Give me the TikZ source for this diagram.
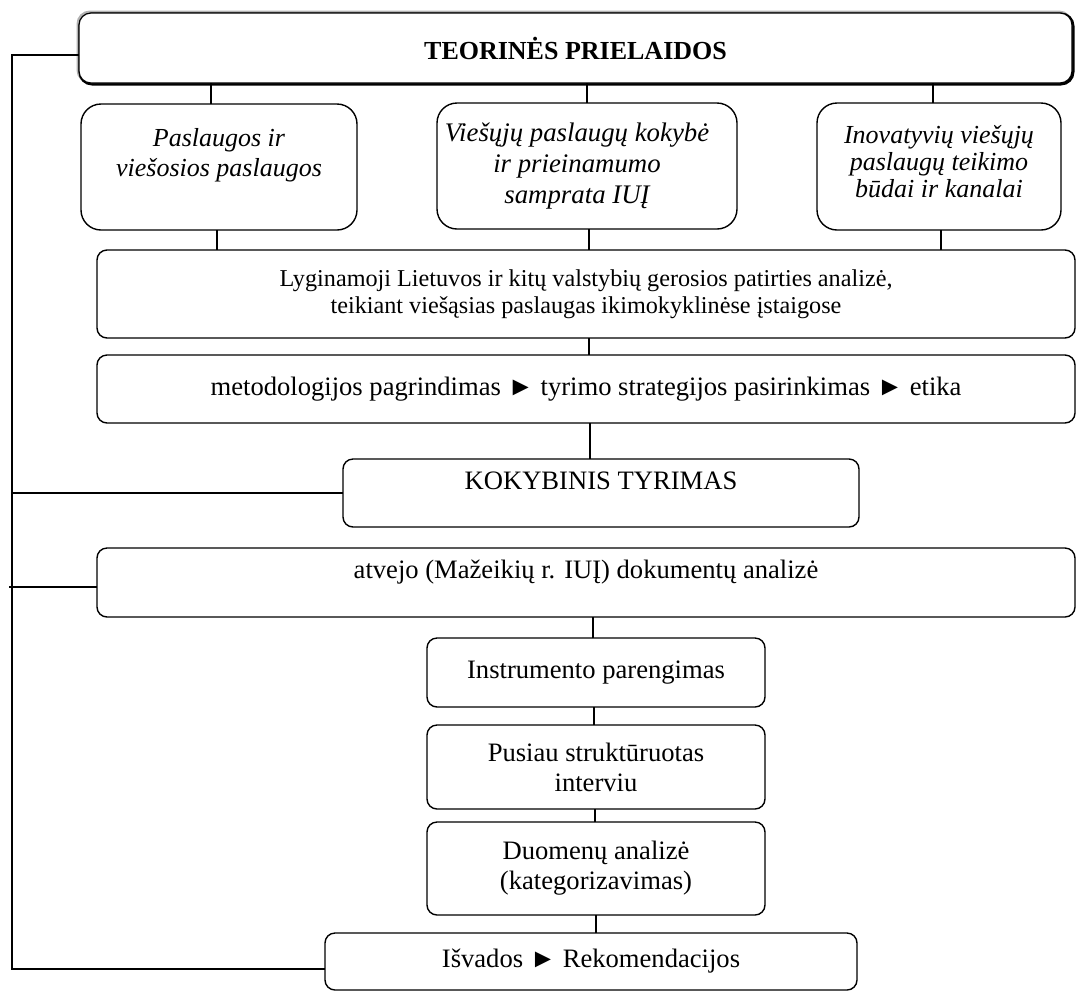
\documentclass[tikz,border=0pt]{standalone}
\usepackage{fontspec}
\setmainfont{Liberation Serif}
\begin{document}
\begin{tikzpicture}[x=0.5pt,y=-0.5pt,
  box/.style={draw, line width=0.7pt, rounded corners=5pt, inner sep=0pt, outer sep=0pt, align=center, fill=white, font=\fontsize{13.3}{15}\selectfont},
  bigbox/.style={box, rounded corners=10pt, font=\fontsize{13}{15}\selectfont\itshape},
  conn/.style={line width=0.7pt}]
\useasboundingbox (0,0) rectangle (1076,992);
% shadow of the title box
\draw[gray!60, line width=1.5pt, rounded corners=6pt] (78,12) rectangle (1071,82);
\draw[black, line width=1.5pt, rounded corners=6pt] (80,14) rectangle (1073,84);
\node[box, rounded corners=6pt, line width=0.6pt, minimum width=496.5pt, minimum height=35pt, font=\fontsize{13}{15}\selectfont\bfseries] (top) at (575.5,48) {TEORINĖS PRIELAIDOS};
% three theory boxes
\node[bigbox, minimum width=138pt, minimum height=63pt] (b1) at (219,167) {Paslaugos ir\\viešosios paslaugos\\\mbox{}};
\node[bigbox, minimum width=150pt, minimum height=63pt, font=\fontsize{13.4}{15.5}\selectfont\itshape] (b2) at (587,166) {\begin{tabular}{@{}c@{}}Viešųjų paslaugų kokybė\\ir prieinamumo\\samprata IUĮ\end{tabular}\hspace*{10pt}};
\node[bigbox, minimum width=122pt, minimum height=63.5pt, font=\fontsize{13}{13.5}\selectfont\itshape, text depth=5pt] (b3) at (939,166.5) {Inovatyvių viešųjų\\paslaugų teikimo\\būdai ir kanalai};
% wide boxes
\node[box, minimum width=489pt, minimum height=44pt, font=\fontsize{12.1}{13.5}\selectfont] (lyg) at (586,294) {Lyginamoji Lietuvos ir kitų valstybių gerosios patirties analizė,\\teikiant viešąsias paslaugas ikimokyklinėse įstaigose};
\node[box, minimum width=489pt, minimum height=34pt] (met) at (586,389) {metodologijos pagrindimas ► tyrimo strategijos pasirinkimas ► etika};
\node[box, minimum width=258pt, minimum height=34pt, text depth=12pt] (kok) at (601,493) {KOKYBINIS TYRIMAS};
\node[box, minimum width=489pt, minimum height=34.5pt, text depth=13.5pt] (atv) at (586,582.5) {atvejo (Mažeikių r. IUĮ) dokumentų analizė};
\node[box, minimum width=169pt, minimum height=34.5pt] (ins) at (596,672.5) {Instrumento parengimas};
\node[box, minimum width=169pt, minimum height=42pt] (pus) at (596,767) {Pusiau struktūruotas\\interviu};
\node[box, minimum width=169pt, minimum height=46.5pt] (duo) at (596,868.5) {Duomenų analizė\\(kategorizavimas)};
\node[box, minimum width=266pt, minimum height=28.5pt] (isv) at (591,961.5) {Išvados ► Rekomendacijos};
% connectors
\draw[conn] ([xshift=-4pt]b1.north) -- ([xshift=-4pt]b1.north |- top.south);
\draw[conn] (b2.north) -- (b2.north |- top.south);
\draw[conn] ([xshift=-3pt]b3.north) -- ([xshift=-3pt]b3.north |- top.south);
\draw[conn] ([xshift=-1pt]b1.south) -- ([xshift=-1pt]b1.south |- lyg.north);
\draw[conn] ([xshift=1pt]b2.south) -- ([xshift=1pt]b2.south |- lyg.north);
\draw[conn] ([xshift=1pt]b3.south) -- ([xshift=1pt]b3.south |- lyg.north);
\draw[conn] ([xshift=1.5pt]lyg.south) -- ([xshift=1.5pt]lyg.south |- met.north);
\draw[conn] ([xshift=-5.5pt]kok.north) -- ([xshift=-5.5pt]kok.north |- met.south);
\draw[conn] ([xshift=-1.5pt]ins.north) -- ([xshift=-1.5pt]ins.north |- atv.south);
\draw[conn] ([xshift=-1pt]pus.north) -- ([xshift=-1pt]pus.north |- ins.south);
\draw[conn] ([xshift=-0.5pt]duo.north) -- ([xshift=-0.5pt]duo.north |- pus.south);
\draw[conn] ([xshift=2.5pt]isv.north) -- ([xshift=2.5pt]isv.north |- duo.south);
% left rail
\coordinate (r1) at (12,55);
\coordinate (r2) at (12,969);
\coordinate (a0) at (9,587);
\draw[conn] (top.west |- r1) -- (r1) -- (r2) -- (isv.west |- r2);
\draw[conn] (kok.west) -- (kok.west -| r1);
\draw[conn] (a0) -- (atv.west |- a0);
\end{tikzpicture}
\end{document}
